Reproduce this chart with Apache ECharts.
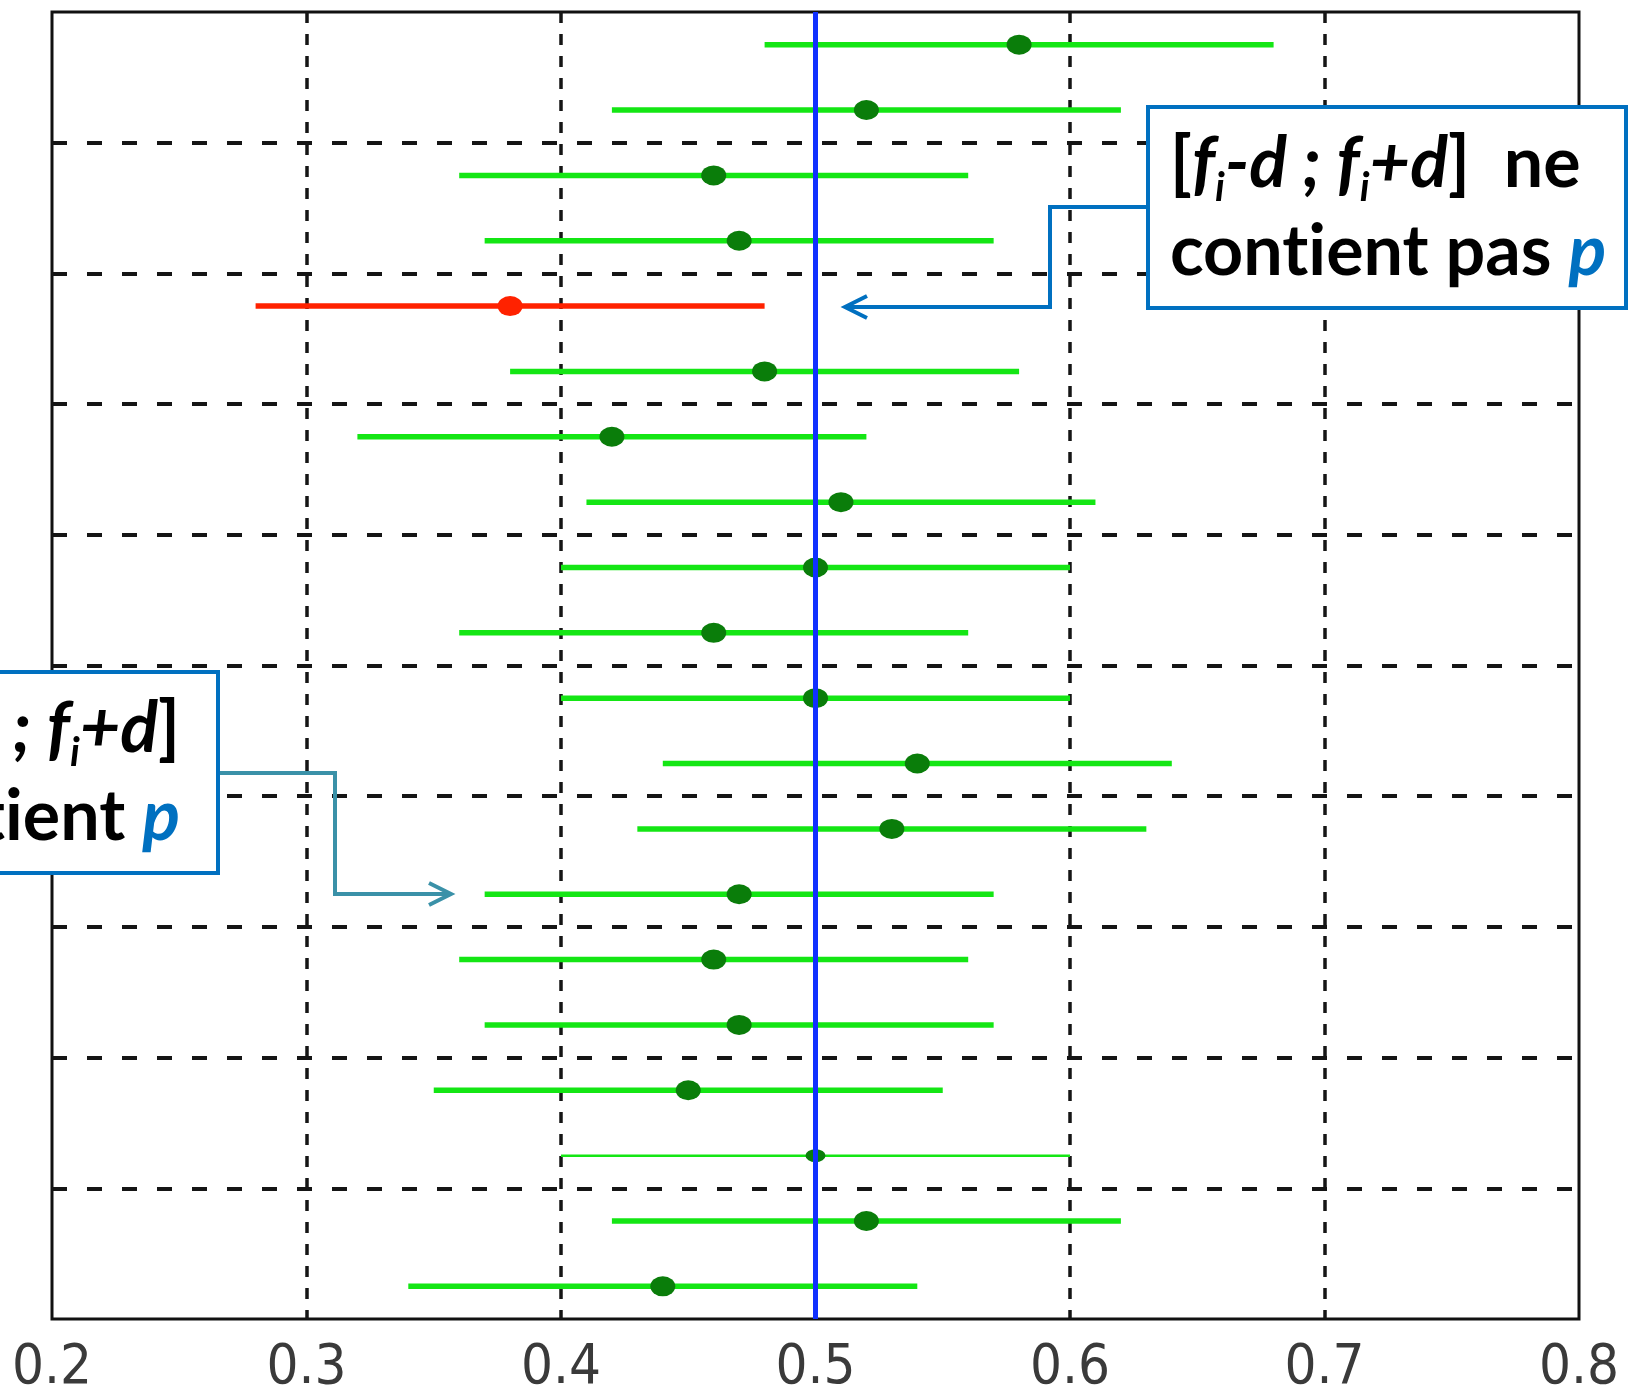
<!DOCTYPE html>
<html>
<head>
<meta charset="utf-8">
<script src="https://cdn.jsdelivr.net/npm/echarts@6/dist/echarts.min.js"></script>
<style>
  html, body { margin: 0; padding: 0; background: #ffffff; }
  #chart { width: 1629px; height: 1386px; }
</style>
</head>
<body>
<div id="chart"></div>
<script>
// ---- data, listed top to bottom ----
const samples = [20, 19, 18, 17, 16, 15, 14, 13, 12, 11, 10, 9, 8, 7, 6, 5, 4, 3, 2, 1];
const centers = [0.58, 0.52, 0.46, 0.47, 0.38, 0.48, 0.42, 0.51, 0.50, 0.46, 0.50, 0.54, 0.53, 0.47, 0.46, 0.47, 0.45, 0.50, 0.52, 0.44];
const lows    = [0.48, 0.42, 0.36, 0.37, 0.28, 0.38, 0.32, 0.41, 0.40, 0.36, 0.40, 0.44, 0.43, 0.37, 0.36, 0.37, 0.35, 0.40, 0.42, 0.34];
const highs   = [0.68, 0.62, 0.56, 0.57, 0.48, 0.58, 0.52, 0.61, 0.60, 0.56, 0.60, 0.64, 0.63, 0.57, 0.56, 0.57, 0.55, 0.60, 0.62, 0.54];
const pValue = 0.5;
const xTickLabels = ['0.2', '0.3', '0.4', '0.5', '0.6', '0.7', '0.8'];

// ---- styling ----
const GREEN = '#14e614';
const DOT_GREEN = '#0a7d0a';
const RED = '#ff2200';
const BLUE_LINE = '#1030ff';
const BOX_BLUE = '#0070c0';
const TEAL = '#3a91a8';
const thinSample = 3;

function missesP(i) { return highs[i] < pValue || lows[i] > pValue; }

const intervalData = samples.map((s, i) => [s - 0.5, lows[i], highs[i], s]);
const centerData = samples.map((s, i) => [centers[i], s - 0.5, s]);

const chart = echarts.init(document.getElementById('chart'), null, { renderer: 'canvas' });

const fontFam = 'Lato, "Open Sans", sans-serif';
const FS = 70, LH = 88;
const rich = {
  b:   { fontFamily: fontFam, fontWeight: 'bold', fontSize: FS, lineHeight: LH, fill: '#000' },
  bi:  { fontFamily: fontFam, fontWeight: 'bold', fontStyle: 'italic', fontSize: FS, lineHeight: LH, fill: '#000' },
  sub: { fontFamily: fontFam, fontWeight: 'bold', fontStyle: 'italic', fontSize: 40, lineHeight: 54, verticalAlign: 'bottom', fill: '#000' },
  pp:  { fontFamily: fontFam, fontWeight: 'bold', fontStyle: 'italic', fontSize: FS, lineHeight: LH, fill: BOX_BLUE }
};

const option = {
  animation: false,
  backgroundColor: '#ffffff',
  grid: { left: 52, right: 50, top: 12, bottom: 67, outerBoundsMode: 'none', containLabel: false, show: true, borderColor: '#111', borderWidth: 3, backgroundColor: 'transparent' },
  xAxis: {
    type: 'value', min: 0.2, max: 0.8, interval: 0.1,
    axisLine: { show: false }, axisTick: { show: false },
    axisLabel: {
      margin: 21, fontFamily: '"Liberation Sans Narrow", "DejaVu Sans Condensed", sans-serif',
      fontSize: 56, color: '#3a3a3a',
      formatter: function (v) { return xTickLabels[Math.round((v - 0.2) * 10)]; }
    },
    splitLine: { show: true, showMinLine: false, showMaxLine: false, lineStyle: { type: [11, 11], width: 3.5, color: '#151515' } }
  },
  yAxis: {
    type: 'value', min: 0, max: 20, interval: 2,
    axisLine: { show: false }, axisTick: { show: false }, axisLabel: { show: false },
    splitLine: { show: true, showMinLine: false, showMaxLine: false, lineStyle: { type: [15, 20], width: 4, color: '#151515' } }
  },
  series: [
    {
      type: 'custom',
      z: 3,
      encode: { x: [1, 2], y: 0 },
      data: intervalData,
      renderItem: function (params, api) {
        const i = params.dataIndex;
        const a = api.coord([api.value(1), api.value(0)]);
        const b = api.coord([api.value(2), api.value(0)]);
        const thin = samples[i] === thinSample;
        return {
          type: 'line',
          shape: { x1: a[0], y1: a[1], x2: b[0], y2: b[1] },
          style: { stroke: missesP(i) ? RED : GREEN, lineWidth: thin ? 2.5 : 5.5 }
        };
      }
    },
    {
      type: 'scatter',
      z: 4,
      data: centerData,
      symbol: 'circle',
      symbolSize: function (val) { return val[2] === thinSample ? [20, 13] : [25, 20]; },
      itemStyle: { opacity: 1, color: function (p) { return missesP(p.dataIndex) ? RED : DOT_GREEN; } }
    },
    {
      type: 'line',
      z: 6,
      data: [],
      markLine: {
        silent: true, symbol: ['none', 'none'], label: { show: false },
        lineStyle: { type: 'solid', color: BLUE_LINE, width: 5 },
        data: [{ xAxis: pValue }]
      }
    }
  ],
  graphic: [
    // right annotation
    { type: 'polyline', z: 50, shape: { points: [[1148, 207], [1050, 207], [1050, 307], [845, 307]] }, style: { stroke: BOX_BLUE, lineWidth: 4, fill: null } },
    { type: 'polyline', z: 50, shape: { points: [[867, 296], [845, 307], [867, 318]] }, style: { stroke: BOX_BLUE, lineWidth: 4, fill: null } },
    { type: 'rect', z: 51, shape: { x: 1148, y: 107, width: 478, height: 201 }, style: { fill: '#fff', stroke: BOX_BLUE, lineWidth: 4 } },
    { type: 'text', z: 52, style: {
        x: 1170, y: 120, align: 'left', verticalAlign: 'top',
        text: '{b|[}{bi|f}{sub|i}{bi|-d ; f}{sub|i}{bi|+d}{b|]  ne}\n{b|cont}{b|ient pas }{pp|p}',
        rich: rich } },
    // left annotation
    { type: 'polyline', z: 50, shape: { points: [[218, 773], [335, 773], [335, 894], [451, 894]] }, style: { stroke: TEAL, lineWidth: 4, fill: null } },
    { type: 'polyline', z: 50, shape: { points: [[429, 883], [451, 894], [429, 905]] }, style: { stroke: TEAL, lineWidth: 4, fill: null } },
    { type: 'rect', z: 51, shape: { x: -154, y: 672, width: 372, height: 201 }, style: { fill: '#fff', stroke: BOX_BLUE, lineWidth: 4 } },
    { type: 'text', z: 52, style: {
        x: 180, y: 685, align: 'right', verticalAlign: 'top',
        text: '{b|[}{bi|f}{sub|i}{bi|-d ; f}{sub|i}{bi|+d}{b|]}\n{b|cont}{b|ient }{pp|p}',
        rich: rich } }
  ]
};
chart.setOption(option);
</script>
</body>
</html>
